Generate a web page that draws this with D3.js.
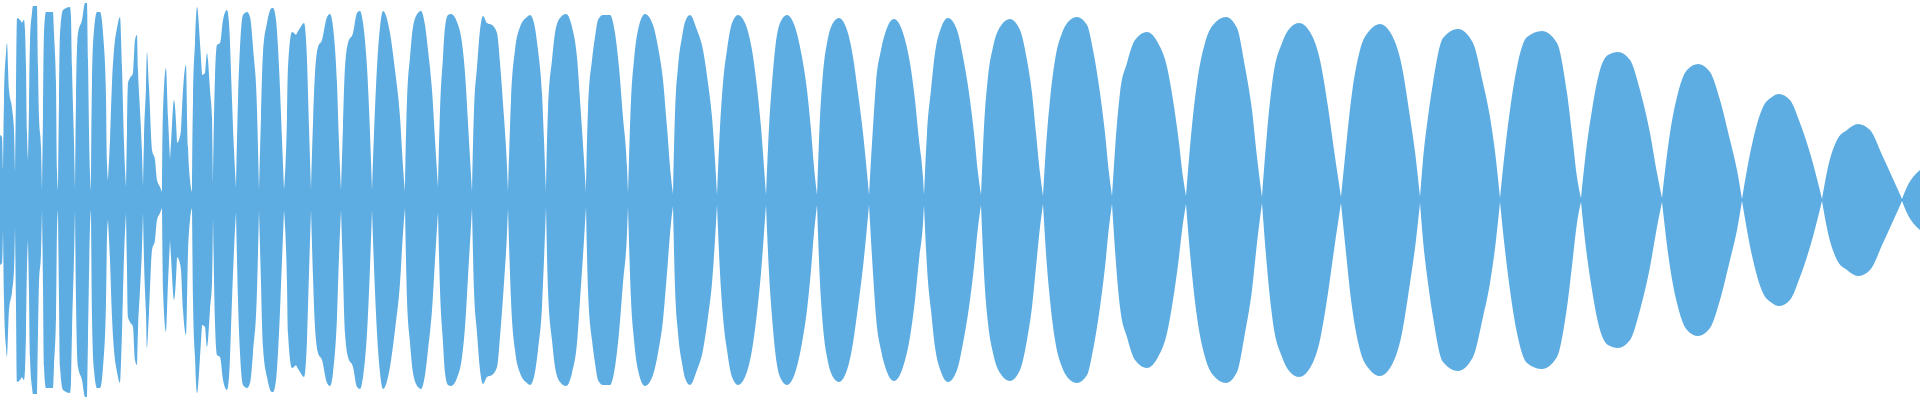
<!DOCTYPE html>
<html>
<head>
<meta charset="utf-8">
<script src="https://cdn.jsdelivr.net/npm/d3@7"></script>
<style>
  html, body { margin: 0; padding: 0; background: #ffffff; }
  #chart { width: 1920px; height: 400px; }
</style>
</head>
<body>
<div id="chart"></div>
<script>
// sample position (ms), one line per lobe of the envelope
const timeMs = [
  0, 2, 3,
  4, 6, 7, 9, 12, 14, 15,
  16, 17, 20, 22, 24, 25, 26, 27, 28,
  29, 30, 32, 33, 37, 38, 39, 41, 42,
  43, 44, 46, 53, 54, 56, 57, 58,
  59, 60, 63, 70, 71, 72, 74, 75,
  76, 78, 82, 85, 87, 88, 90, 91,
  92, 94, 97, 100, 103, 106, 107, 108,
  110, 112, 114, 117, 120, 122, 124, 126,
  127, 128, 130, 133, 135, 137, 138, 140, 142, 143,
  144, 146, 147, 149, 152, 155, 157, 160, 162,
  163, 166, 168, 170,
  171, 174, 177,
  179, 181, 183, 186, 188, 190, 192,
  193, 195, 197, 200, 202,
  205, 207, 208, 210, 212, 213,
  215, 217, 220, 223, 227, 229, 232, 234, 236,
  238, 240, 243, 247, 250, 253, 257, 259,
  261, 263, 267, 272, 273, 276, 279, 282, 284,
  287, 288, 292, 296, 300, 304, 307, 309, 311,
  313, 315, 318, 322, 327, 330, 333, 337, 339, 341,
  343, 345, 348, 353, 357, 360, 363, 367, 370, 372,
  374, 377, 380, 383, 390, 395, 400, 403, 405,
  407, 410, 413, 418, 421, 425, 428, 432, 435, 438,
  440, 443, 445, 448, 451, 457, 462, 465, 468, 472,
  474, 477, 480, 483, 487, 492, 497, 500, 504, 507, 508,
  511, 515, 520, 527, 530, 534, 538, 542, 544, 546,
  548, 552, 555, 560, 566, 572, 577, 580, 584, 586,
  588, 592, 595, 598, 603, 610, 615, 619, 623, 627, 628,
  631, 634, 638, 645, 653, 658, 663, 667, 671, 673,
  675, 678, 682, 685, 690, 697, 703, 708, 712, 715, 717,
  720, 723, 727, 732, 738, 745, 752, 757, 761, 764, 766,
  769, 772, 775, 780, 787, 795, 802, 807, 811, 814, 817,
  820, 823, 827, 833, 839, 847, 853, 858, 863, 867, 869,
  873, 876, 881, 887, 894, 903, 910, 915, 919, 923, 924,
  927, 931, 935, 941, 948, 957, 963, 969, 974, 978, 981,
  984, 988, 993, 1000, 1010, 1020, 1027, 1032, 1036, 1040, 1043,
  1047, 1050, 1055, 1062, 1068, 1077, 1087, 1093, 1100, 1105, 1109, 1112,
  1115, 1120, 1127, 1135, 1147, 1158, 1167, 1173, 1179, 1183, 1186,
  1190, 1197, 1205, 1213, 1226, 1237, 1245, 1252, 1257, 1262,
  1267, 1273, 1282, 1290, 1299, 1310, 1320, 1328, 1335, 1341,
  1345, 1352, 1360, 1370, 1380, 1390, 1402, 1410, 1416, 1420,
  1423, 1428, 1433, 1443, 1458, 1473, 1483, 1490, 1496, 1500,
  1505, 1510, 1517, 1527, 1542, 1557, 1567, 1573, 1577, 1581,
  1585, 1592, 1600, 1608, 1618, 1630, 1640, 1650, 1657, 1662,
  1670, 1677, 1687, 1698, 1710, 1720, 1730, 1737, 1742,
  1753, 1763, 1772, 1779, 1790, 1800, 1810, 1822,
  1828, 1837, 1847, 1858, 1870, 1883, 1902,
  1907, 1920
];

// peak amplitude in % of full scale, same line layout as timeMs
const peakPct = [
  32.5, 31.5, 15,
  50, 73.5, 78.5, 55, 46, 35, 13.5,
  53.5, 91, 90, 88.5, 90, 85, 66.5, 33.5, 20,
  46.5, 78.5, 93.5, 97, 97, 66.5, 41.5, 26.5, 5,
  43.5, 83.5, 94, 94, 83.5, 58.5, 15, 5,
  50, 83.5, 95, 96.5, 91.5, 66.5, 28.5, 5,
  50, 83.5, 90, 98.5, 98.5, 70, 13.5, 5,
  58.5, 85, 94, 94, 83.5, 51.5, 18.5, 10,
  30, 58.5, 75, 86, 91.5, 66.5, 28.5, 6.5,
  35, 58.5, 61, 63.5, 80, 82.5, 65, 45, 23.5, 6.5,
  30, 56.5, 74, 56.5, 25, 20, 10, 6.5, 4,
  45, 66, 41.5, 20,
  28.5, 50, 28.5,
  30, 35, 55, 67.5, 26.5, 10, 4,
  50, 78.5, 96.5, 78.5, 62.5,
  63.5, 73.5, 70, 55, 41.5, 8.5,
  61.5, 77.5, 78.5, 90, 95, 88.5, 50, 25, 6,
  50, 76.5, 92.5, 94, 91.5, 76.5, 45, 5,
  41.5, 73.5, 88.5, 96, 96, 90, 66.5, 30, 5,
  41.5, 66.5, 84, 82.5, 86, 88.5, 70, 36.5, 5,
  38.5, 63.5, 76.5, 80, 91.5, 93, 86.5, 58.5, 28.5, 5,
  36.5, 66.5, 78.5, 83.5, 93.5, 94.5, 88.5, 66.5, 33.5, 5,
  33.5, 66.5, 86.5, 94.5, 83.5, 65, 41.5, 16.5, 4,
  50, 71.5, 86.5, 93.5, 94.5, 87.5, 75, 55, 30, 6,
  45, 71.5, 86.5, 92.5, 93, 89, 78.5, 63.5, 38.5, 4,
  45, 66.5, 85, 92, 88.5, 87.5, 83.5, 68.5, 41.5, 16.5, 4,
  50, 75, 86.5, 91.5, 92.5, 88.5, 75, 53.5, 30, 3.5,
  45, 70, 83.5, 91, 93, 86.5, 71.5, 50, 20, 3.5,
  45, 70, 81.5, 90, 92.5, 92.5, 83.5, 66.5, 41.5, 16.5, 3.5,
  50, 70, 85, 93, 87.5, 76.5, 60, 36.5, 11.5, 3,
  43.5, 66.5, 81.5, 89, 92.5, 85, 75, 58.5, 41.5, 20, 2.5,
  36.5, 58.5, 75, 88.5, 92.5, 88.5, 75, 56.5, 36.5, 16.5, 2.5,
  36.5, 58.5, 75, 88.5, 92.5, 86.5, 71.5, 55, 35, 16.5, 2.5,
  41.5, 63.5, 78.5, 88.5, 91, 85, 71.5, 53.5, 33.5, 13.5, 2.5,
  36.5, 58.5, 75, 86, 90.5, 83.5, 68.5, 50, 30, 11.5, 2.5,
  33.5, 55, 73.5, 86, 91, 85, 71.5, 53.5, 33.5, 13.5, 2.5,
  36.5, 61.5, 76.5, 86.5, 90.5, 85, 70, 53.5, 33.5, 13.5, 2,
  33.5, 50, 70, 83.5, 89, 91.5, 87.5, 75, 53.5, 33.5, 13.5, 2,
  25, 53.5, 68.5, 80, 84, 78.5, 66.5, 50, 28.5, 11.5, 2,
  26.5, 58.5, 78.5, 87.5, 91.5, 86, 66.5, 45, 21.5, 1.5,
  33.5, 61.5, 78.5, 86, 88.5, 84, 70, 46.5, 21.5, 1.5,
  21.5, 53.5, 75, 85, 88, 84, 66.5, 41.5, 20, 1.5,
  20, 41.5, 58.5, 81, 85.5, 78.5, 58.5, 41.5, 20, 1,
  25, 45, 66.5, 81.5, 84.5, 78.5, 53.5, 28.5, 11.5, 1,
  20, 45, 65, 72.5, 74, 70, 55, 33.5, 13.5, 1,
  33.5, 51.5, 65, 68, 64, 50, 30, 15, 0.5,
  30, 46.5, 51.5, 53, 50, 38.5, 23.5, 0.5,
  16.5, 30, 35, 38, 35, 21.5, 0.5,
  6.5, 15
];

const width = 1920;
const height = 400;
const waveColor = "#5DADE2";

const samples = timeMs.map((t, i) => ({ t, a: peakPct[i] }));

const x = d3.scaleLinear()
    .domain([0, 1920])
    .range([0, width]);

const y = d3.scaleLinear()
    .domain([-100, 100])
    .range([height, 0]);

// cut the envelope at each local minimum so the pinch points stay sharp
const lobes = [];
let current = [samples[0]];
for (let i = 1; i < samples.length; i++) {
    current.push(samples[i]);
    const prev = samples[i - 1], next = samples[i + 1];
    if (next && samples[i].a <= prev.a && samples[i].a <= next.a) {
        lobes.push(current);
        current = [samples[i]];
    }
}
lobes.push(current);

const area = d3.area()
    .x(d => x(d.t))
    .y0(d => y(-d.a))
    .y1(d => y(d.a))
    .curve(d3.curveMonotoneX);

const svg = d3.select("#chart")
    .append("svg")
    .attr("width", width)
    .attr("height", height);

svg.append("path")
    .attr("class", "wave")
    .attr("d", lobes.map(l => area(l)).join(""))
    .style("fill", waveColor);
</script>
</body>
</html>
